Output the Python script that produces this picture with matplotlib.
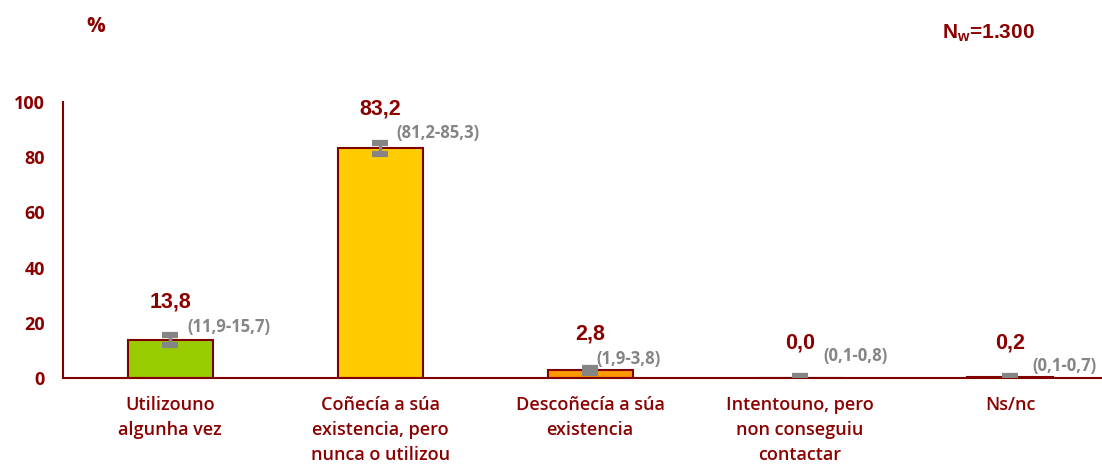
import numpy as np
import matplotlib

matplotlib.use("Agg")
import matplotlib.pyplot as plt

# Survey results: knowledge / use of the service
categories = [
    "Utilizouno\nalgunha vez",
    "Coñecía a súa\nexistencia, pero\nnunca o utilizou",
    "Descoñecía a súa\nexistencia",
    "Intentouno, pero\nnon conseguiu\ncontactar",
    "Ns/nc",
]
values = [13.8, 83.2, 2.8, 0.0, 0.2]
ci_low = [11.9, 81.2, 1.9, 0.1, 0.1]
ci_high = [15.7, 85.3, 3.8, 0.8, 0.7]
ci_labels = ["(11,9-15,7)", "(81,2-85,3)", "(1,9-3,8)", "(0,1-0,8)", "(0,1-0,7)"]
sample_label = "N$_\\mathregular{w}$=1.300"

bar_colors = ["#99CC00", "#FFCC00", "#FF9900", "#FF9900", "#FF9900"]
dark_red = "#8B0000"
grey = "#858585"

# layout of the interval labels (x shift in category units, y shift in %)
ci_dx = [0.08, 0.08, 0.03, 0.11, 0.105]
ci_dy = [2.8, 3.5, 3.1, 7.2, 3.6]

plt.rcParams["font.family"] = ["Open Sans", "DejaVu Sans"]

fig = plt.figure(figsize=(11.02, 4.66), dpi=100)
ax = fig.add_axes([63 / 1102, 88 / 466, 1052 / 1102, 276 / 466])

x = np.arange(len(categories))
ax.bar(x, values, width=0.405, color=bar_colors, edgecolor="#800000",
       linewidth=1.5, zorder=2)

# confidence intervals drawn as grey caps joined by a short stem
for i in range(len(values)):
    lo, hi = ci_low[i], ci_high[i]
    ax.plot([i, i], [lo, hi], color=grey, lw=2.5, zorder=3,
            solid_capstyle="butt")
    for yv in (lo, hi):
        ax.plot([i - 0.037, i + 0.037], [yv, yv], color=grey, lw=4.5,
                solid_capstyle="butt", zorder=3)

for i, v in enumerate(values):
    ax.text(i, ci_high[i] + 12, f"{v:.1f}".replace(".", ","), ha="center",
            va="center", fontsize=15.5, fontweight="bold", color=dark_red,
            family=["Liberation Sans", "DejaVu Sans"])
    ax.text(i + ci_dx[i], ci_high[i] + ci_dy[i], ci_labels[i], ha="left",
            va="center", fontsize=12, fontweight="bold", color=grey)

ax.set_xlim(-0.51, 4.5)
ax.set_ylim(0, 100)
ax.set_yticks(np.arange(0, 101, 20))
ax.set_xticks(x)
ax.set_xticklabels(categories, fontsize=13, color=dark_red,
                   linespacing=1.5, fontweight="semibold")
ax.tick_params(axis="both", length=0)
ax.tick_params(axis="x", pad=13)
ax.tick_params(axis="y", labelsize=13, labelcolor=dark_red, pad=13)
for lab in ax.get_yticklabels():
    lab.set_fontweight("bold")

for side in ("top", "right"):
    ax.spines[side].set_visible(False)
ax.spines["left"].set_color("#800000")
ax.spines["bottom"].set_color("#800000")
ax.spines["left"].set_linewidth(1.5)
ax.spines["bottom"].set_linewidth(1.5)

fig.text(96 / 1102, 1 - 27 / 466, "%", ha="center", va="center",
         fontsize=15, fontweight="bold", color=dark_red)
fig.text(988 / 1102, 1 - 33 / 466, sample_label, ha="center", va="center",
         fontsize=15, fontweight="bold", color=dark_red,
         family=["Liberation Sans", "DejaVu Sans"])

fig.savefig("out.png", dpi=100)
